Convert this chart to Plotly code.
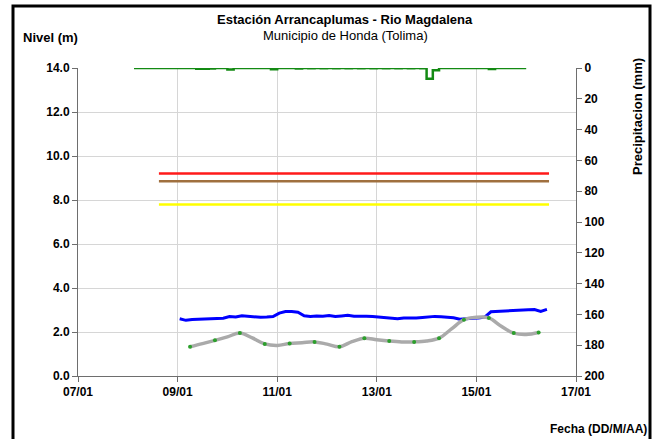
import plotly.graph_objects as go
import pandas as pd

# ---------------- data ----------------
# River level (m), 3-hourly from 09/01 01:00
level_start = "2011-01-09 01:00"
level_values = [2.60, 2.53, 2.57, 2.58, 2.60, 2.59, 2.62, 2.63, 2.70, 2.68,
                2.74, 2.72, 2.68, 2.67, 2.68, 2.70, 2.86, 2.93, 2.93, 2.90,
                2.74, 2.71, 2.73, 2.72, 2.75, 2.70, 2.73, 2.76, 2.72, 2.73,
                2.72, 2.70, 2.68, 2.64, 2.63, 2.60, 2.64, 2.63, 2.64, 2.66,
                2.70, 2.71, 2.69, 2.66, 2.65, 2.58, 2.62, 2.63, 2.64, 2.68,
                2.92, 2.94, 2.95, 2.96, 2.97, 3.00, 3.01, 3.02, 2.94, 3.03]

# Smoothed level (gray), 6-hourly from 09/01 06:00 (markers every 12 h)
smooth_start = "2011-01-09 06:00"
smooth_values = [1.33, 1.47, 1.62, 1.78, 1.95, 1.73, 1.46, 1.39, 1.48, 1.51,
                 1.55, 1.45, 1.33, 1.56, 1.72, 1.65, 1.59, 1.55, 1.55, 1.59,
                 1.72, 2.14, 2.56, 2.67, 2.64, 2.26, 1.95, 1.89, 1.98]

# Precipitation (mm), 3-hourly from 08/01 03:00
precip_start = "2011-01-08 03:00"
precip_values = [0, 0, 0, 0, 0, 0, 0, 0, 0, 0,
                 0.5, 0.5, 0.3, 0, 0, 1.0, 0, 0, 0, 0,
                 0, 0, 0.8, 0, 0, 0, 0.4, 0, 0.2, 0,
                 0.2, 0, 0.2, 0, 0.2, 0, 0.2, 0, 0.2, 0,
                 0.2, 0, 0.2, 0, 0.2, 0, 0.2,
                 7.0, 1.5, 0,
                 0, 0, 0, 0, 0, 0, 0, 0.7, 0, 0,
                 0, 0, 0, 0]

# Alert thresholds (m)
threshold_names = ["Alerta roja", "Alerta naranja", "Alerta amarilla"]
threshold_values = [9.2, 8.85, 7.8]
threshold_colors = ["#ff1a1a", "#a0703f", "#ffff00"]
threshold_span = ["2011-01-08 15:00", "2011-01-16 11:00"]

# Axes
x_range = ["2011-01-07", "2011-01-17"]
left_range = [0, 14]
right_range = [200, 0]

title = "Estación Arrancaplumas - Rio Magdalena"
subtitle = "Municipio de Honda (Tolima)"

# ---------------- figure ----------------
level_t = pd.date_range(level_start, periods=len(level_values), freq="3h")
smooth_t = pd.date_range(smooth_start, periods=len(smooth_values), freq="6h")
precip_t = pd.date_range(precip_start, periods=len(precip_values), freq="3h")

fig = go.Figure()

for name, val, col in zip(threshold_names, threshold_values, threshold_colors):
    fig.add_trace(go.Scatter(x=threshold_span, y=[val, val], mode="lines",
                             line=dict(color=col, width=2.5), name=name))

fig.add_trace(go.Scatter(x=level_t, y=level_values, mode="lines",
                         line=dict(color="#0000ff", width=3), name="Nivel"))

fig.add_trace(go.Scatter(x=smooth_t, y=smooth_values, mode="lines",
                         line=dict(color="#aaaaaa", width=3.5, shape="spline"),
                         name="Nivel medio"))
fig.add_trace(go.Scatter(x=smooth_t[::2], y=smooth_values[::2], mode="markers",
                         marker=dict(color="#2ca02c", size=4), name="Lecturas"))

fig.add_trace(go.Scatter(x=precip_t, y=precip_values, mode="lines",
                         line=dict(color="#138a13", width=2.5, shape="hv"),
                         name="Precipitación", yaxis="y2"))

W, H = 656, 439
ML, MR, MT, MB = 78, 80, 68, 63
pw, ph = W - ML - MR, H - MT - MB


def px(x):
    return (x - ML) / pw


def py(y):
    return (H - MB - y) / ph


font = "Liberation Sans, Arial, sans-serif"
tickfont = dict(family=font, size=12, color="black", weight="bold")

fig.update_layout(
    width=W, height=H,
    margin=dict(l=ML, r=MR, t=MT, b=MB, pad=0),
    paper_bgcolor="white", plot_bgcolor="white",
    showlegend=False,
    font=dict(family=font, color="black"),
    xaxis=dict(range=x_range, type="date", tick0="2011-01-07",
               dtick=2 * 86400000, tickformat="%d/%m",
               showgrid=True, gridcolor="#d6d6d6", gridwidth=1,
               showline=True, linecolor="#6e6e6e", linewidth=1,
               ticks="outside", ticklen=5, tickcolor="#6e6e6e",
               tickfont=tickfont, zeroline=False),
    yaxis=dict(range=left_range, dtick=2, tickformat=".1f",
               showgrid=True, gridcolor="#d6d6d6", gridwidth=1,
               showline=True, linecolor="#6e6e6e", linewidth=1,
               ticks="outside", ticklen=5, tickcolor="#6e6e6e",
               tickfont=tickfont, zeroline=False),
    yaxis2=dict(range=right_range, dtick=20, overlaying="y", side="right",
                showgrid=False, showline=True, linecolor="#6e6e6e", linewidth=1,
                ticks="outside", ticklen=5, tickcolor="#6e6e6e",
                tickfont=tickfont, zeroline=False),
)


def label(text, x, y, xanchor="center", angle=0, size=13):
    fig.add_annotation(text=text, xref="paper", yref="paper",
                       x=px(x), y=py(y), xanchor=xanchor, yanchor="middle",
                       textangle=angle, showarrow=False,
                       font=dict(family=font, size=size, color="black"))


label("<b>" + title + "</b>", 345, 20)
label(subtitle, 345, 36)
label("<b>Nivel (m)</b>", 21, 37, xanchor="left")
label("<b>Precipitacion (mm)</b>", 637, 117, angle=-90)
label("<b>Fecha (DD/M/AA)</b>", 649, 429, xanchor="right", size=12)

fig.add_shape(type="rect", xref="paper", yref="paper",
              x0=px(13), x1=px(650), y0=py(450), y1=py(6),
              line=dict(color="black", width=3), fillcolor="rgba(0,0,0,0)")

fig.write_html("out.html",
               config={"displayModeBar": False},
               post_script="document.body.style.margin='0';"
                           "document.body.style.overflow='hidden';")
